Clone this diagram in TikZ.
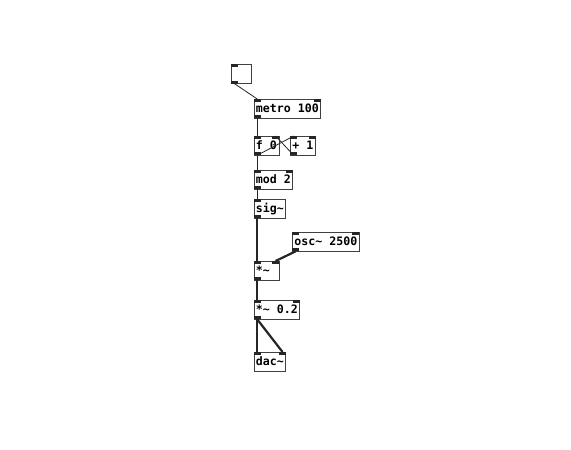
\documentclass[tikz,border=0pt]{standalone}
\usepackage{fontspec}
\setmonofont{DejaVu Sans Mono}
\usetikzlibrary{arrows.meta,positioning,calc}
\newcommand\pdfont{\fontsize{11.6}{12}\ttfamily\bfseries}
\newcommand\tl{\textasciitilde}
%% inlets and outlets of a box: name, number of inlets, number of outlets
\newcommand\ports[3]{%
  \ifnum#2>0 \node[port, anchor=north west] (#1-i0) at (#1.north west) {};\fi
  \ifnum#2>1 \node[port, anchor=north east] (#1-i1) at (#1.north east) {};\fi
  \ifnum#3>0 \node[port, anchor=south west] (#1-o0) at (#1.south west) {};\fi
}

\begin{document}
\begin{tikzpicture}[x=1pt, y=-1pt,
    obj/.style={draw=black!75, line width=0.8pt, anchor=north west, fill=white,
                inner xsep=2pt, inner ysep=0pt, minimum height=18.5pt,
                minimum width=25pt, text height=10.2pt, text depth=1.6pt,
                font=\pdfont},
    port/.style={fill=black!85, draw=none, inner sep=0pt,
                 minimum width=7pt, minimum height=2.8pt},
    msg/.style={line width=0.8pt, black!85},
    sig/.style={line width=2.2pt, black!85}]

  \fill[white] (0,0) rectangle (571,450);

  %% ── Control part ─────────────────────────────
  \node[obj, minimum width=19.5pt, minimum height=19pt] (toggle) at (231,64) {};
  \node[obj] (metro) at (253.5,99)  {metro 100};
  \node[obj] (count) at (253.5,136) {f 0};
  \node[obj] (plus)  at (290,136) {+ 1};
  \node[obj] (mod)   at (253.5,170) {mod 2};

  %% ── Signal part ──────────────────────────────
  \node[obj] (sig)   at (253.5,199) {sig\tl};
  \node[obj] (osc)   at (292,232) {osc\tl\ 2500};
  \node[obj, text width=21pt] (mul) at (253.5,261) {*\tl};
  \node[obj] (gain)  at (253.5,300) {*\tl\ 0.2};
  \node[obj] (dac)   at (253.5,352) {dac\tl};

  \ports{toggle}{1}{1}
  \ports{metro}{2}{1}
  \ports{count}{2}{1}
  \ports{plus}{2}{1}
  \ports{mod}{2}{1}
  \ports{sig}{1}{1}
  \ports{osc}{2}{1}
  \ports{mul}{2}{1}
  \ports{gain}{2}{1}
  \ports{dac}{2}{0}

  %% Message connections
  \draw[msg] (toggle-o0.south) -- (metro-i0.north);
  \draw[msg] (metro-o0.south) -- (count-i0.north);
  \draw[msg] (count-o0.south) -- (plus-i0.north);   % counter feeds + 1
  \draw[msg] (plus-o0.south) -- (count-i1.north);   % + 1 back into f
  \draw[msg] (count-o0.south) -- (mod-i0.north);
  \draw[msg] (mod-o0.south) -- (sig-i0.north);

  %% Signal connections
  \draw[sig] (sig-o0.south) -- (mul-i0.north);
  \draw[sig] (osc-o0.south) -- (mul-i1.north);
  \draw[sig] (mul-o0.south) -- (gain-i0.north);
  \draw[sig] (gain-o0.south) -- (dac-i0.north);
  \draw[sig] (gain-o0.south) -- (dac-i1.north);

\end{tikzpicture}
\end{document}
